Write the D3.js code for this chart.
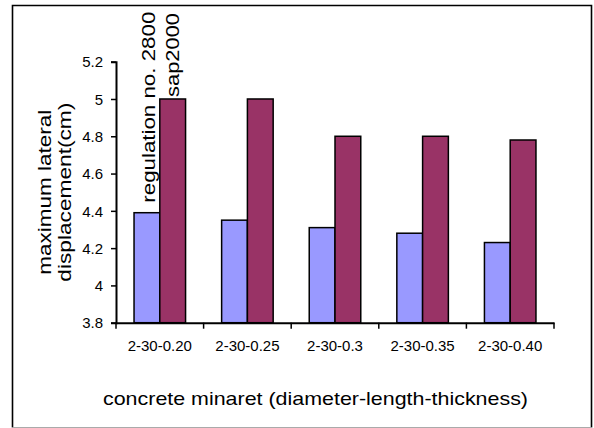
<!DOCTYPE html>
<html><head><meta charset="utf-8">
<script src="https://cdn.jsdelivr.net/npm/d3@7"></script>
<style>body{margin:0;background:#fff}text{font-family:"Liberation Sans",Arial,sans-serif;fill:#000}</style>
</head><body>
<svg id="c" width="594" height="428"></svg>
<script>
const categories = ["2-30-0.20","2-30-0.25","2-30-0.3","2-30-0.35","2-30-0.40"];
const seriesNames = ["regulation no. 2800","sap2000"];
const regulation = [4.39,4.35,4.31,4.28,4.23];
const sap2000 = [5.0,5.0,4.8,4.8,4.78];
const yTicks = [3.8,4,4.2,4.4,4.6,4.8,5,5.2];
const yTickLabels = ["3.8","4","4.2","4.4","4.6","4.8","5","5.2"];
const colors = ["#9999FF","#993366"];
const yTitle = ["maximum lateral","displacement(cm)"];
const xTitle = "concrete minaret (diameter-length-thickness)";

const svg = d3.select("#c");
const L=116,R=554,T=61.7,B=322.7;
const x = d3.scaleBand().domain(categories).range([L,R]).paddingInner(0).paddingOuter(0);
const y = d3.scaleLinear().domain([3.8,5.2]).range([B,T]);
const gw = x.bandwidth()/1.7;
const x1 = d3.scaleBand().domain([0,1]).range([(x.bandwidth()-gw)/2,(x.bandwidth()+gw)/2]);

// border
svg.append("path").attr("d","M12.5,427.5V5.5H591.5V427.5").attr("fill","none").attr("stroke","#000").attr("stroke-width",1.6);
svg.append("line").attr("x1",12.5).attr("x2",591.5).attr("y1",427.5).attr("y2",427.5).attr("stroke","#aaa");

const data = [regulation,sap2000];
const g = svg.append("g");
categories.forEach((c,i)=>{
  data.forEach((s,k)=>{
    g.append("rect").attr("x",x(c)+x1(k)).attr("y",y(s[i])).attr("width",x1.bandwidth()).attr("height",y(3.8)-y(s[i]))
      .attr("fill",colors[k]).attr("stroke","#000").attr("stroke-width",1.5);
  });
});

// axes
const ya = svg.append("g").attr("transform",`translate(${L},0)`)
  .call(d3.axisLeft(y).tickValues(yTicks).tickFormat((d,i)=>yTickLabels[i]).tickSize(5).tickPadding(8));
ya.select(".domain").attr("stroke-width",2);
ya.selectAll(".tick line").attr("stroke-width",1.5);
ya.selectAll("text").style("font-size","15px").attr("dy","0.35em");

const xa = svg.append("g").attr("transform",`translate(0,${B})`)
  .call(d3.axisBottom(x).tickSize(0).tickPadding(18));
xa.select(".domain").attr("stroke-width",2);
xa.selectAll(".tick line").remove();
xa.selectAll("text").style("font-size","15px");
// category separator ticks
svg.append("g").selectAll("line").data(categories.concat([null])).join("line")
  .attr("x1",(d,i)=>i<categories.length?x(d):R).attr("x2",(d,i)=>i<categories.length?x(d):R)
  .attr("y1",B).attr("y2",B+6).attr("stroke","#000").attr("stroke-width",1.5);

// series name labels on first category
const lens=[191,84], offs=[10,2], base=[8,6];
seriesNames.forEach((n,k)=>{
  const cx = x(categories[0])+x1(k)+x1.bandwidth()/2+base[k];
  const cy = y(data[k][0])-offs[k];
  svg.append("text").attr("transform",`translate(${cx},${cy}) rotate(-90)`)
    .attr("text-anchor","start").style("font-size","19px")
    .attr("textLength",lens[k]).attr("lengthAdjust","spacingAndGlyphs").text(n);
});

// y title
const ytl=[165,179], ytx=[51,71];
yTitle.forEach((t,i)=>{
  svg.append("text").attr("transform",`translate(${ytx[i]},${(T+B)/2}) rotate(-90)`)
    .attr("text-anchor","middle").style("font-size","18px")
    .attr("textLength",ytl[i]).attr("lengthAdjust","spacingAndGlyphs").text(t);
});
// x title
svg.append("text").attr("x",315.5).attr("y",405).attr("text-anchor","middle").style("font-size","19px")
  .attr("textLength",425).attr("lengthAdjust","spacingAndGlyphs").text(xTitle);
</script>
</body></html>
